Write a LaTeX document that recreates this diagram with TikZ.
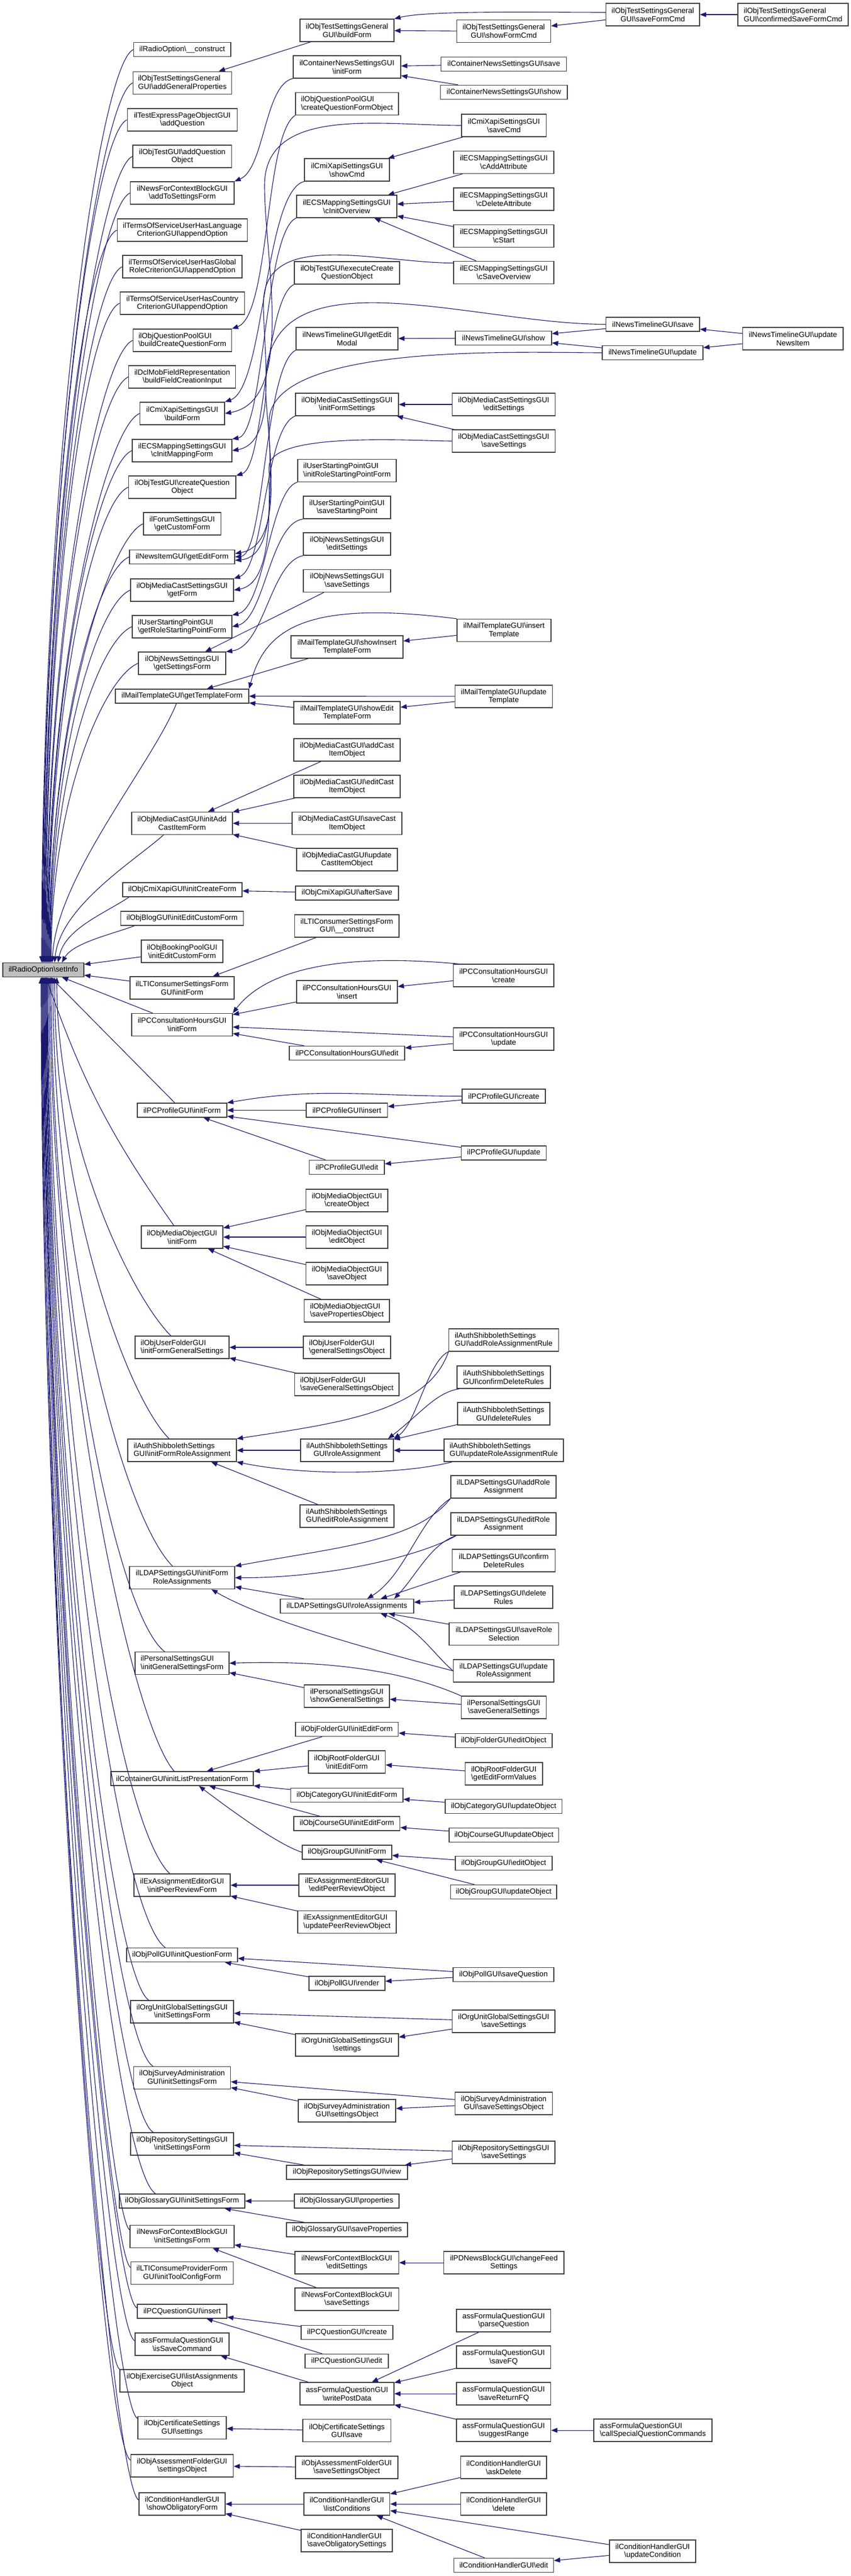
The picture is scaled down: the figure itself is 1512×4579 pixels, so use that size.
\documentclass[tikz,border=0pt]{standalone}
\usepackage{fontspec}
\setmainfont{Liberation Sans}
\usetikzlibrary{arrows.meta,calc}
\definecolor{edgeblue}{HTML}{191970}
\definecolor{rootfill}{HTML}{BFBFBF}
\definecolor{boxline}{HTML}{404040}
\newcommand\BSL{\textbackslash{}}
\newcommand\dxfont{\fontsize{13.3}{14.8}\selectfont}
\newcommand\upE[3]{\draw[cg] ($(root.north)+(#2,0)$) .. controls +(0,-#3) and +(-60,25) .. (#1.west);}
\tikzset{
  box/.style={draw=boxline, line width=1.3pt, fill=white, inner xsep=2pt, inner ysep=0pt,
    minimum height=25pt, font=\dxfont, align=center, text=black},
  two/.style={box, minimum height=40pt},
  lft/.style={align=left},
  cg/.style={draw=edgeblue, line width=1.1pt, arrows={Triangle[length=11pt,width=8.5pt]-}},
}
\begin{document}
\begin{tikzpicture}[x=1pt,y=-1pt]
\fill[white] (0,0) rectangle (1512,4579);
\useasboundingbox (0,0) rectangle (1512,4579);

% root
\node[box, fill=rootfill, minimum width=144] (root) at (77,1724) {ilRadioOption\BSL setInfo};

% column 1
\node[box, minimum width=172.5] (n1) at (323.75,88.25) {ilRadioOption\BSL\_\_construct};
\node[two, lft, minimum width=175] (n2) at (324,147.25) {ilObjTestSettingsGeneral\\GUI\BSL addGeneralProperties};
\node[two, minimum width=195.5] (n3) at (323.9,213) {ilTestExpressPageObjectGUI\\\BSL addQuestion};
\node[two, minimum width=175.5] (n4) at (323.75,278) {ilObjTestGUI\BSL addQuestion\\Object};
\node[two, minimum width=184.3] (n5) at (323.9,343) {ilNewsForContextBlockGUI\\\BSL addToSettingsForm};
\node[two, minimum width=231] (n6) at (324,409) {ilTermsOfServiceUserHasLanguage\\CriterionGUI\BSL appendOption};
\node[two, minimum width=212] (n7) at (324,474) {ilTermsOfServiceUserHasGlobal\\RoleCriterionGUI\BSL appendOption};
\node[two, minimum width=221.5] (n8) at (324,539) {ilTermsOfServiceUserHasCountry\\CriterionGUI\BSL appendOption};
\node[two, lft, minimum width=175] (n9) at (324,605) {ilObjQuestionPoolGUI\\\BSL buildCreateQuestionForm};
\node[two, minimum width=190] (n10) at (323.8,670) {ilDclMobFieldRepresentation\\\BSL buildFieldCreationInput};
\node[two, minimum width=150.5] (n11) at (323.8,735) {ilCmiXapiSettingsGUI\\\BSL buildForm};
\node[two, minimum width=177] (n12) at (323.5,801) {ilECSMappingSettingsGUI\\\BSL cInitMappingForm};
\node[two, minimum width=190.5] (n13) at (323.75,866) {ilObjTestGUI\BSL createQuestion\\Object};
\node[two, minimum width=137.5] (n14) at (323.75,931) {ilForumSettingsGUI\\\BSL getCustomForm};
\node[box, minimum width=187] (n15) at (323.5,990) {ilNewsItemGUI\BSL getEditForm};
\node[two, minimum width=183] (n16) at (323.5,1049) {ilObjMediaCastSettingsGUI\\\BSL getForm};
\node[two, lft, minimum width=177] (n17) at (323.5,1114) {ilUserStartingPointGUI\\\BSL getRoleStartingPointForm};
\node[two, minimum width=155] (n18) at (323.5,1179) {ilObjNewsSettingsGUI\\\BSL getSettingsForm};
\node[box, minimum width=237] (n19) at (323.5,1237.5) {ilMailTemplateGUI\BSL getTemplateForm};
\node[two, minimum width=179] (n20) at (323.5,1463.5) {ilObjMediaCastGUI\BSL initAdd\\CastItemForm};
\node[box, minimum width=212] (n21) at (324,1581.5) {ilObjCmiXapiGUI\BSL initCreateForm};
\node[box, minimum width=218] (n22) at (323.5,1632.5) {ilObjBlogGUI\BSL initEditCustomForm};
\node[two, minimum width=145] (n23) at (323.5,1691) {ilObjBookingPoolGUI\\\BSL initEditCustomForm};
\node[two, minimum width=185] (n24) at (323.5,1756) {ilLTIConsumerSettingsForm\\GUI\BSL initForm};
\node[two, minimum width=179] (n25) at (323.5,1821.5) {ilPCConsultationHoursGUI\\\BSL initForm};
\node[box, minimum width=159] (n26) at (323.5,1973.5) {ilPCProfileGUI\BSL initForm};
\node[two, minimum width=145] (n27) at (323.5,2199) {ilObjMediaObjectGUI\\\BSL initForm};
\node[two, lft, minimum width=167] (n28) at (323.5,2395) {ilObjUserFolderGUI\\\BSL initFormGeneralSettings};
\node[two, lft, minimum width=193] (n29) at (323.5,2578) {ilAuthShibbolethSettings\\GUI\BSL initFormRoleAssignment};
\node[two, minimum width=187] (n30) at (323.5,2804.5) {ilLDAPSettingsGUI\BSL initForm\\RoleAssignments};
\node[two, lft, minimum width=167] (n31) at (323.5,2956.5) {ilPersonalSettingsGUI\\\BSL initGeneralSettingsForm};
\node[box, minimum width=253] (n32) at (323.5,3161.5) {ilContainerGUI\BSL initListPresentationForm};
\node[two, minimum width=171] (n33) at (323.5,3351) {ilExAssignmentEditorGUI\\\BSL initPeerReviewForm};
\node[box, minimum width=197] (n34) at (323.5,3475) {ilObjPollGUI\BSL initQuestionForm};
\node[two, minimum width=183] (n35) at (323.5,3576) {ilOrgUnitGlobalSettingsGUI\\\BSL initSettingsForm};
\node[two, minimum width=172] (n36) at (323.5,3693.5) {ilObjSurveyAdministration\\GUI\BSL initSettingsForm};
\node[two, minimum width=183] (n37) at (323.5,3811) {ilObjRepositorySettingsGUI\\\BSL initSettingsForm};
\node[box, minimum width=223] (n38) at (323.5,3912.5) {ilObjGlossaryGUI\BSL initSettingsForm};
\node[two, minimum width=185] (n39) at (323.5,3975.6) {ilNewsForContextBlockGUI\\\BSL initSettingsForm};
\node[two, minimum width=182] (n40) at (323.5,4040.5) {ilLTIConsumeProviderForm\\GUI\BSL initToolConfigForm};
\node[box, minimum width=159] (n41) at (323.5,4108.5) {ilPCQuestionGUI\BSL insert};
\node[two, minimum width=167] (n42) at (323.5,4167) {assFormulaQuestionGUI\\\BSL isSaveCommand};
\node[two, minimum width=221] (n43) at (323.5,4232) {ilObjExerciseGUI\BSL listAssignments\\Object};
\node[two, minimum width=157] (n44) at (323.5,4315.6) {ilObjCertificateSettings\\GUI\BSL settings};
\node[two, minimum width=182] (n45) at (323.5,4383) {ilObjAssessmentFolderGUI\\\BSL settingsObject};
\node[two, minimum width=153] (n46) at (323.5,4451) {ilConditionHandlerGUI\\\BSL showObligatoryForm};

% column 2
\node[two, minimum width=167] (c2a) at (616.5,54) {ilObjTestSettingsGeneral\\GUI\BSL buildForm};
\node[two, minimum width=191] (c2b) at (616.5,119) {ilContainerNewsSettingsGUI\\\BSL initForm};
\node[two, lft, minimum width=183] (c2c) at (616.5,184.5) {ilObjQuestionPoolGUI\\\BSL createQuestionFormObject};
\node[two, minimum width=151] (c2d) at (616.5,302) {ilCmiXapiSettingsGUI\\\BSL showCmd};
\node[two, minimum width=178] (c2e) at (616,367) {ilECSMappingSettingsGUI\\\BSL cInitOverview};
\node[two, minimum width=187] (c2f) at (616.5,485) {ilObjTestGUI\BSL executeCreate\\QuestionObject};
\node[two, minimum width=181] (c2g) at (616.5,602) {ilNewsTimelineGUI\BSL getEdit\\Modal};
\node[two, minimum width=183] (c2h) at (616.5,719) {ilObjMediaCastSettingsGUI\\\BSL initFormSettings};
\node[two, lft, minimum width=175] (c2i) at (616.5,836.5) {ilUserStartingPointGUI\\\BSL initRoleStartingPointForm};
\node[two, minimum width=155] (c2j) at (616.5,902) {ilUserStartingPointGUI\\\BSL saveStartingPoint};
\node[two, minimum width=155] (c2k) at (616.5,967) {ilObjNewsSettingsGUI\\\BSL editSettings};
\node[two, minimum width=155] (c2l) at (616.5,1032.5) {ilObjNewsSettingsGUI\\\BSL saveSettings};
\node[two, minimum width=199] (c2m) at (616.5,1150) {ilMailTemplateGUI\BSL showInsert\\TemplateForm};
\node[two, minimum width=189] (c2n) at (616.5,1267) {ilMailTemplateGUI\BSL showEdit\\TemplateForm};
\node[two, minimum width=189] (c2o) at (616.5,1333) {ilObjMediaCastGUI\BSL addCast\\ItemObject};
\node[two, minimum width=189] (c2p) at (616.5,1398) {ilObjMediaCastGUI\BSL editCast\\ItemObject};
\node[two, minimum width=195] (c2q) at (616.5,1463.5) {ilObjMediaCastGUI\BSL saveCast\\ItemObject};
\node[two, minimum width=179] (c2r) at (616.5,1528) {ilObjMediaCastGUI\BSL update\\CastItemObject};
\node[box, minimum width=183] (c2s) at (616.5,1587.5) {ilObjCmiXapiGUI\BSL afterSave};
\node[two, minimum width=185.5] (c2t) at (616.25,1646) {ilLTIConsumerSettingsForm\\GUI\BSL\_\_construct};
\node[two, minimum width=179] (c2u) at (616.5,1763) {ilPCConsultationHoursGUI\\\BSL insert};
\node[box, minimum width=205] (c2v) at (616.5,1872) {ilPCConsultationHoursGUI\BSL edit};
\node[box, minimum width=144.5] (c2w) at (616.25,1973.5) {ilPCProfileGUI\BSL insert};
\node[box, minimum width=133.4] (c2x) at (616.3,2075) {ilPCProfileGUI\BSL edit};
\node[two, minimum width=145.5] (c2y) at (616.25,2134) {ilObjMediaObjectGUI\\\BSL createObject};
\node[two, minimum width=145.5] (c2z) at (616.25,2199) {ilObjMediaObjectGUI\\\BSL editObject};
\node[two, minimum width=145.5] (c2A) at (616.25,2264) {ilObjMediaObjectGUI\\\BSL saveObject};
\node[two, lft, minimum width=151.4] (c2B) at (616.3,2330) {ilObjMediaObjectGUI\\\BSL savePropertiesObject};
\node[two, lft, minimum width=155] (c2C) at (616.5,2395) {ilObjUserFolderGUI\\\BSL generalSettingsObject};
\node[two, lft, minimum width=185.5] (c2D) at (616.25,2461) {ilObjUserFolderGUI\\\BSL saveGeneralSettingsObject};
\node[two, minimum width=165] (c2E) at (616.5,2578) {ilAuthShibbolethSettings\\GUI\BSL roleAssignment};
\node[two, lft, minimum width=167] (c2F) at (616.5,2695) {ilAuthShibbolethSettings\\GUI\BSL editRoleAssignment};
\node[box, minimum width=237] (c2G) at (616.4,2855) {ilLDAPSettingsGUI\BSL roleAssignments};
\node[two, lft, minimum width=151.4] (c2H) at (616.3,3015) {ilPersonalSettingsGUI\\\BSL showGeneralSettings};
\node[box, minimum width=182.7] (c2I) at (616.4,3074) {ilObjFolderGUI\BSL initEditForm};
\node[two, minimum width=136.5] (c2J) at (616.25,3132) {ilObjRootFolderGUI\\\BSL initEditForm};
\node[box, minimum width=199.5] (c2K) at (616.25,3191) {ilObjCategoryGUI\BSL initEditForm};
\node[box, minimum width=188.6] (c2L) at (616.3,3241.5) {ilObjCourseGUI\BSL initEditForm};
\node[box, minimum width=159] (c2M) at (616.5,3292.5) {ilObjGroupGUI\BSL initForm};
\node[two, minimum width=171] (c2N) at (616.5,3351) {ilExAssignmentEditorGUI\\\BSL editPeerReviewObject};
\node[two, lft, minimum width=175] (c2O) at (616.5,3416.5) {ilExAssignmentEditorGUI\\\BSL updatePeerReviewObject};
\node[box, minimum width=135] (c2P) at (616.5,3525.6) {ilObjPollGUI\BSL render};
\node[two, minimum width=183] (c2Q) at (616.5,3635) {ilOrgUnitGlobalSettingsGUI\\\BSL settings};
\node[two, minimum width=173] (c2R) at (616.5,3752) {ilObjSurveyAdministration\\GUI\BSL settingsObject};
\node[box, minimum width=215] (c2S) at (616.5,3861.5) {ilObjRepositorySettingsGUI\BSL view};
\node[box, minimum width=186] (c2T) at (616,3912.5) {ilObjGlossaryGUI\BSL properties};
\node[box, minimum width=215] (c2U) at (616.5,3963.5) {ilObjGlossaryGUI\BSL saveProperties};
\node[two, minimum width=184.5] (c2V) at (616.25,4022) {ilNewsForContextBlockGUI\\\BSL editSettings};
\node[two, minimum width=184.5] (c2W) at (616.25,4087) {ilNewsForContextBlockGUI\\\BSL saveSettings};
\node[box, minimum width=163] (c2X) at (616.5,4146) {ilPCQuestionGUI\BSL create};
\node[box, minimum width=148] (c2Y) at (616,4197) {ilPCQuestionGUI\BSL edit};
\node[two, minimum width=167] (c2Z) at (616.5,4255) {assFormulaQuestionGUI\\\BSL writePostData};
\node[two, minimum width=156.7] (c2AA) at (616.35,4320.7) {ilObjCertificateSettings\\GUI\BSL save};
\node[two, minimum width=182] (c2AB) at (616,4386) {ilObjAssessmentFolderGUI\\\BSL saveSettingsObject};
\node[two, minimum width=152.6] (c2AC) at (616.3,4451) {ilConditionHandlerGUI\\\BSL listConditions};
\node[two, lft, minimum width=162] (c2AD) at (616,4516) {ilConditionHandlerGUI\\\BSL saveObligatorySettings};

% column 3
\node[two, minimum width=167] (c3a) at (895,55.6) {ilObjTestSettingsGeneral\\GUI\BSL showFormCmd};
\node[box, minimum width=223] (c3b) at (895,114) {ilContainerNewsSettingsGUI\BSL save};
\node[box, minimum width=225.4] (c3c) at (895.3,164) {ilContainerNewsSettingsGUI\BSL show};
\node[two, minimum width=150.6] (c3d) at (895.3,223) {ilCmiXapiSettingsGUI\\\BSL saveCmd};
\node[two, minimum width=178] (c3e) at (895,288.5) {ilECSMappingSettingsGUI\\\BSL cAddAttribute};
\node[two, minimum width=178] (c3f) at (895,354) {ilECSMappingSettingsGUI\\\BSL cDeleteAttribute};
\node[two, minimum width=178] (c3g) at (895,419.5) {ilECSMappingSettingsGUI\\\BSL cStart};
\node[two, minimum width=178] (c3h) at (895,484.5) {ilECSMappingSettingsGUI\\\BSL cSaveOverview};
\node[box, minimum width=171] (c3i) at (894.5,601) {ilNewsTimelineGUI\BSL show};
\node[two, minimum width=183] (c3j) at (895,719) {ilObjMediaCastSettingsGUI\\\BSL editSettings};
\node[two, minimum width=183] (c3k) at (895,784) {ilObjMediaCastSettingsGUI\\\BSL saveSettings};
\node[two, minimum width=167] (c3l) at (895.5,1120.5) {ilMailTemplateGUI\BSL insert\\Template};
\node[two, minimum width=173] (c3m) at (895,1238) {ilMailTemplateGUI\BSL update\\Template};
\node[two, minimum width=178.4] (c3n) at (894.8,1734) {ilPCConsultationHoursGUI\\\BSL create};
\node[two, minimum width=178.4] (c3o) at (894.8,1847) {ilPCConsultationHoursGUI\\\BSL update};
\node[box, minimum width=148] (c3p) at (895,1948.5) {ilPCProfileGUI\BSL create};
\node[box, minimum width=151] (c3q) at (895,2049.5) {ilPCProfileGUI\BSL update};
\node[two, lft, minimum width=195] (c3r) at (895,2382) {ilAuthShibbolethSettings\\GUI\BSL addRoleAssignmentRule};
\node[two, lft, minimum width=166] (c3s) at (895,2448) {ilAuthShibbolethSettings\\GUI\BSL confirmDeleteRules};
\node[two, minimum width=164] (c3t) at (895,2513) {ilAuthShibbolethSettings\\GUI\BSL deleteRules};
\node[two, lft, minimum width=212] (c3u) at (895,2578) {ilAuthShibbolethSettings\\GUI\BSL updateRoleAssignmentRule};
\node[two, minimum width=187] (c3v) at (894.5,2643) {ilLDAPSettingsGUI\BSL addRole\\Assignment};
\node[two, minimum width=187] (c3w) at (894.5,2709) {ilLDAPSettingsGUI\BSL editRole\\Assignment};
\node[two, minimum width=183] (c3x) at (895,2774) {ilLDAPSettingsGUI\BSL confirm\\DeleteRules};
\node[two, minimum width=175] (c3y) at (894.5,2839) {ilLDAPSettingsGUI\BSL delete\\Rules};
\node[two, minimum width=194.5] (c3z) at (895.25,2904.5) {ilLDAPSettingsGUI\BSL saveRole\\Selection};
\node[two, minimum width=178.4] (c3A) at (894.8,2970) {ilLDAPSettingsGUI\BSL update\\RoleAssignment};
\node[two, minimum width=151] (c3B) at (895,3035) {ilPersonalSettingsGUI\\\BSL saveGeneralSettings};
\node[box, minimum width=172] (c3C) at (895,3094) {ilObjFolderGUI\BSL editObject};
\node[two, lft, minimum width=137.5] (c3D) at (895.25,3153) {ilObjRootFolderGUI\\\BSL getEditFormValues};
\node[box, minimum width=207.6] (c3E) at (894.8,3211) {ilObjCategoryGUI\BSL updateObject};
\node[box, minimum width=194.5] (c3F) at (895.25,3262) {ilObjCourseGUI\BSL updateObject};
\node[box, minimum width=172] (c3G) at (895,3312) {ilObjGroupGUI\BSL editObject};
\node[box, minimum width=188.3] (c3H) at (894.85,3363) {ilObjGroupGUI\BSL updateObject};
\node[box, minimum width=179] (c3I) at (894.5,3510) {ilObjPollGUI\BSL saveQuestion};
\node[two, minimum width=182.4] (c3J) at (894.8,3593) {ilOrgUnitGlobalSettingsGUI\\\BSL saveSettings};
\node[two, minimum width=173] (c3K) at (895,3739) {ilObjSurveyAdministration\\GUI\BSL saveSettingsObject};
\node[two, minimum width=182.4] (c3L) at (894.8,3826) {ilObjRepositorySettingsGUI\\\BSL saveSettings};
\node[two, minimum width=213.5] (c3M) at (895.25,4022) {ilPDNewsBlockGUI\BSL changeFeed\\Settings};
\node[two, minimum width=167.6] (c3N) at (894.8,4125) {assFormulaQuestionGUI\\\BSL parseQuestion};
\node[two, minimum width=167.6] (c3O) at (894.8,4190) {assFormulaQuestionGUI\\\BSL saveFQ};
\node[two, minimum width=167.6] (c3P) at (894.8,4255) {assFormulaQuestionGUI\\\BSL saveReturnFQ};
\node[two, minimum width=167.6] (c3Q) at (894.8,4320) {assFormulaQuestionGUI\\\BSL suggestRange};
\node[two, minimum width=152.3] (c3R) at (894.85,4386) {ilConditionHandlerGUI\\\BSL askDelete};
\node[two, minimum width=152.3] (c3S) at (894.85,4451) {ilConditionHandlerGUI\\\BSL delete};
\node[box, minimum width=177] (c3T) at (895,4560) {ilConditionHandlerGUI\BSL edit};

% column 4
\node[two, minimum width=166.4] (c4a) at (1159.8,26) {ilObjTestSettingsGeneral\\GUI\BSL saveFormCmd};
\node[box, minimum width=166.4] (c4b) at (1159.8,576.5) {ilNewsTimelineGUI\BSL save};
\node[box, minimum width=179] (c4c) at (1159.5,627) {ilNewsTimelineGUI\BSL update};
\node[two, lft, minimum width=210] (c4d) at (1160,4320) {assFormulaQuestionGUI\\\BSL callSpecialQuestionCommands};
\node[two, minimum width=153] (c4e) at (1159.5,4535) {ilConditionHandlerGUI\\\BSL updateCondition};

% column 5
\node[two, lft, minimum width=196] (c5a) at (1409,26) {ilObjTestSettingsGeneral\\GUI\BSL confirmedSaveFormCmd};
\node[two, minimum width=178.4] (c5b) at (1408.8,602) {ilNewsTimelineGUI\BSL update\\NewsItem};

% ---- edges into the root ----
\upE{n1}{-3}{893}
\upE{n2}{-2}{860}
\upE{n3}{-1}{824}
\upE{n4}{0}{788}
\upE{n5}{1}{752}
\upE{n6}{2}{716}
\upE{n7}{3}{680}
\upE{n8}{4}{645}
\upE{n9}{5}{608}
\upE{n10}{6}{573}
\upE{n11}{7}{537}
\upE{n12}{8}{500}
\upE{n13}{9}{465}
\upE{n14}{10}{429}
\upE{n15}{11}{397}
\upE{n16}{12}{364}
\upE{n17}{13}{328}
\upE{n18}{14}{293}
\draw[cg] ($(root.north)+(16,0)$) .. controls +(6,-150) and +(-45,110) .. ($(n19.south)+(-10,0)$);
\draw[cg] ($(root.north)+(20,0)$) .. controls +(10,-100) and +(-50,45) .. ($(n20.south)+(-33,0)$);
\draw[cg] ($(root.north)+(26,0)$) .. controls +(12,-60) and +(-45,30) .. ($(n21.south west)+(12,0)$);
\draw[cg] ($(root.north)+(33,0)$) .. controls +(20,-35) and +(-40,15) .. ($(n22.south west)+(25,0)$);
\draw[cg] (root) -- (n23);
\draw[cg] (root) -- (n24);
\draw[cg] (root) -- (n25);
\draw[cg] (root) -- (n26);
\draw[cg] (root) to[bend right=8] (n27);
\draw[cg] ($(root.south)+(24,0)$) .. controls +(0,296) and +(-70,-70) .. ($(n28.north)+(-20,0)$);
\draw[cg] ($(root.south)+(20,0)$) .. controls +(0,378) and +(-80,-80) .. ($(n29.north)+(-23,0)$);
\draw[cg] ($(root.south)+(17,0)$) .. controls +(0,480) and +(-90,-90) .. ($(n30.north)+(-17,0)$);
\draw[cg] ($(root.south)+(14,0)$) .. controls +(0,549) and +(-90,-70) .. ($(n31.north)+(-31,0)$);
\draw[cg] ($(root.south)+(12,0)$) .. controls +(0,641) and +(-80,-90) .. ($(n32.north)+(-14,0)$);
\draw[cg] ($(root.south)+(10,0)$) .. controls +(0,726) and +(-100,-95) .. ($(n33.north)+(-22,0)$);
\draw[cg] ($(root.south)+(8,0)$) .. controls +(0,782) and +(-90,-65) .. ($(n34.north)+(-30,0)$);
\draw[cg] ($(root.south)+(7,0)$) .. controls +(0,828) and +(-70,-45) .. ($(n35.north west)+(33,0)$);
\draw[cg] ($(root.south)+(6,0)$) .. controls +(0,880) and +(-75,-45) .. ($(n36.north west)+(35,0)$);
\draw[cg] ($(root.south)+(5,0)$) .. controls +(0,933) and +(-75,-45) .. ($(n37.north west)+(41,0)$);
\draw[cg] ($(root.south)+(4,0)$) .. controls +(0,979) and +(-80,-50) .. ($(n38.north west)+(65,0)$);
\draw[cg] ($(root.south)+(3,0)$) .. controls +(0,1007) and +(-40,-25) .. ($(n39.west)+(0,-12)$);
\draw[cg] ($(root.south)+(2,0)$) .. controls +(0,1037) and +(-40,-25) .. ($(n40.west)+(0,-10)$);
\draw[cg] ($(root.south)+(1,0)$) .. controls +(0,1067) and +(-50,-25) .. ($(n41.west)+(0,-6)$);
\draw[cg] ($(root.south)+(0,0)$) .. controls +(0,1094) and +(-50,-25) .. ($(n42.west)+(0,-6)$);
\draw[cg] ($(root.south)+(-1,0)$) .. controls +(0,1123) and +(-40,-25) .. (n43.north west);
\draw[cg] ($(root.south)+(-2,0)$) .. controls +(0,1160) and +(-50,-25) .. ($(n44.north west)+(0,4)$);
\draw[cg] ($(root.south)+(-3,0)$) .. controls +(0,1191) and +(-50,-25) .. ($(n45.west)+(0,-10)$);
\draw[cg] ($(root.south)+(-4,0)$) .. controls +(0,1221) and +(-50,-28) .. ($(n46.west)+(0,-7)$);

% ---- other edges ----
\draw[cg] (n2) -- (c2a);
\draw[cg] (c2a.north east) .. controls +(60,-15) and +(-120,0) .. ($(c4a.west)+(0,-4)$);
\draw[cg] (c2a) -- (c3a);
\draw[cg] (c3a) -- (c4a);
\draw[cg] (c4a) -- (c5a);

\draw[cg] (n5.north east) .. controls (470,300) and (470,150) .. (c2b.south west);
\draw[cg] (c2b) -- (c3b);
\draw[cg] (c2b) -- (c3c);

\draw[cg] (n9.north east) .. controls (480,560) and (470,240) .. (c2c.south west);

\draw[cg] (n11.north east) .. controls (470,690) and (470,340) .. (c2d.south west);
\draw[cg] (n11.east) to[out=10,in=-90,looseness=0.8] (470,330) to[out=90,in=180] (c3d.west);
\draw[cg] (c2d) -- (c3d);

\draw[cg] (n12.north east) .. controls (470,770) and (470,410) .. (c2e.south west);
\draw[cg] (n12.east) to[out=10,in=-90,looseness=0.8] (468,540) to[out=90,in=180] ($(c3h.west)+(0,-17)$);
\draw[cg] (c2e) -- (c3e);
\draw[cg] (c2e) -- (c3f);
\draw[cg] (c2e) -- (c3g);
\draw[cg] (c2e) -- (c3h);

\draw[cg] (n13.north east) .. controls (470,830) and (470,530) .. (c2f.south west);

\draw[cg] (n15.east) .. controls (470,985) and (470,650) .. (c2g.south west);
\draw[cg] ($(n15.east)+(0,-6)$) to[out=10,in=-90,looseness=0.8] (472,680) to[out=90,in=180] (c4b.west);
\draw[cg] ($(n15.east)+(0,6)$) to[out=5,in=-90,looseness=0.8] (478,750) to[out=90,in=180,looseness=0.6] (c4c.west);
\draw[cg] (c2g) -- (c3i);
\draw[cg] (c3i) -- (c4b);
\draw[cg] (c3i) -- (c4c);
\draw[cg] (c4b) -- (c5b);
\draw[cg] (c4c) -- (c5b);

\draw[cg] (n16.north east) .. controls (470,1010) and (470,760) .. (c2h.south west);
\draw[cg] (n16.east) to[out=10,in=-90,looseness=0.8] (478,830) to[out=90,in=180,looseness=0.5] (c3k.west);
\draw[cg] (c2h) -- (c3j);
\draw[cg] (c2h) -- (c3k);

\draw[cg] (n17.north east) .. controls (470,1080) and (480,870) .. (c2i.south west);
\draw[cg] (n17.east) .. controls (470,1100) and (480,930) .. (c2j.south west);
\draw[cg] (n18.north east) .. controls (470,1150) and (480,1000) .. (c2k.south west);
\draw[cg] (n18) -- (c2l);

\draw[cg] (n19) -- (c2m);
\draw[cg] (n19.north east) .. controls (470,1120) and (540,1065) .. (c3l.north west);
\draw[cg] (n19) -- (c3m);
\draw[cg] (n19) -- (c2n);
\draw[cg] (c2m) -- (c3l);
\draw[cg] (c2n) -- (c3m);

\draw[cg] (n20) -- (c2o);
\draw[cg] (n20) -- (c2p);
\draw[cg] (n20) -- (c2q);
\draw[cg] (n20) -- (c2r);
\draw[cg] (n21) -- (c2s);
\draw[cg] (n24) -- (c2t);

\draw[cg] (n25.north east) .. controls (460,1740) and (560,1690) .. ($(c3n.north west)+(10,0)$);
\draw[cg] (n25) -- (c2u);
\draw[cg] (n25) -- (c3o);
\draw[cg] (n25) -- (c2v);
\draw[cg] (c2u) -- (c3n);
\draw[cg] (c2v) -- (c3o);

\draw[cg] (n26.north east) to[out=10,in=180] (c3p.west);
\draw[cg] (n26) -- (c2w);
\draw[cg] (n26) -- (c3q);
\draw[cg] (n26) -- (c2x);
\draw[cg] (c2w) -- (c3p);
\draw[cg] (c2x) -- (c3q);

\draw[cg] (n27) -- (c2y);
\draw[cg] (n27) -- (c2z);
\draw[cg] (n27) -- (c2A);
\draw[cg] (n27) -- (c2B);
\draw[cg] (n28) -- (c2C);
\draw[cg] (n28) -- (c2D);

\draw[cg] (n29.north east) .. controls (600,2530) and (760,2510) .. (c3r.south west);
\draw[cg] (n29) -- (c2E);
\draw[cg] (n29.south east) .. controls (550,2625) and (720,2620) .. ($(c3u.south west)+(15,0)$);
\draw[cg] (n29) -- (c2F);
\draw[cg] (c2E.north east) .. controls (740,2530) and (760,2420) .. (c3r.south west);
\draw[cg] ($(c2E.north east)+(-10,0)$) .. controls (750,2510) and (775,2475) .. ($(c3s.south west)+(5,0)$);
\draw[cg] (c2E) -- (c3t);
\draw[cg] (c2E) -- (c3u);

\draw[cg] (n30.north east) .. controls (600,2750) and (740,2740) .. (c3v.south west);
\draw[cg] (n30.east) .. controls (600,2805) and (760,2760) .. ($(c3w.south west)+(10,0)$);
\draw[cg] (n30) -- (c2G);
\draw[cg] ($(n30.south east)+(-42,0)$) .. controls (470,2880) and (650,2930) .. (c3A.west);
\draw[cg] ($(c2G.north)+(36,0)$) .. controls (720,2800) and (745,2700) .. (c3v.south west);
\draw[cg] ($(c2G.north)+(84,0)$) .. controls (740,2800) and (765,2745) .. ($(c3w.south west)+(10,0)$);
\draw[cg] ($(c2G.north)+(60,0)$) -- ($(c3x.south west)+(15,0)$);
\draw[cg] (c2G) -- (c3y);
\draw[cg] (c2G) -- (c3z);
\draw[cg] ($(c2G.south)+(60,0)$) .. controls (740,2890) and (770,2940) .. (c3A.west);

\draw[cg] (n31.east) .. controls (600,2950) and (730,2975) .. (c3B.north west);
\draw[cg] (n31) -- (c2H);
\draw[cg] (c2H) -- (c3B);

\draw[cg] (n32) -- (c2I);
\draw[cg] (n32) -- (c2J);
\draw[cg] (n32) -- (c2K);
\draw[cg] (n32) -- (c2L);
\draw[cg] ($(n32.south)+(30,0)$) .. controls (440,3240) and (500,3280) .. (c2M.west);
\draw[cg] (c2I) -- (c3C);
\draw[cg] (c2J) -- (c3D);
\draw[cg] (c2K) -- (c3E);
\draw[cg] (c2L) -- (c3F);
\draw[cg] (c2M) -- (c3G);
\draw[cg] (c2M) -- (c3H);

\draw[cg] (n33) -- (c2N);
\draw[cg] (n33) -- (c2O);
\draw[cg] (n34) -- (c3I);
\draw[cg] (n34) -- (c2P);
\draw[cg] (c2P) -- (c3I);
\draw[cg] (n35) -- (c3J);
\draw[cg] (n35) -- (c2Q);
\draw[cg] (c2Q) -- (c3J);
\draw[cg] (n36) -- (c3K);
\draw[cg] (n36) -- (c2R);
\draw[cg] (c2R) -- (c3K);
\draw[cg] (n37) -- (c3L);
\draw[cg] (n37) -- (c2S);
\draw[cg] (c2S) -- (c3L);
\draw[cg] (n38) -- (c2T);
\draw[cg] (n38) -- (c2U);
\draw[cg] (n39) -- (c2V);
\draw[cg] (n39) -- (c2W);
\draw[cg] (c2V) -- (c3M);
\draw[cg] (n41) -- (c2X);
\draw[cg] (n41) -- (c2Y);
\draw[cg] (n42) -- (c2Z);
\draw[cg] (c2Z) -- (c3N);
\draw[cg] (c2Z) -- (c3O);
\draw[cg] (c2Z) -- (c3P);
\draw[cg] (c2Z) -- (c3Q);
\draw[cg] (c3Q) -- (c4d);
\draw[cg] (n44) -- (c2AA);
\draw[cg] (n45) -- (c2AB);
\draw[cg] (n46) -- (c2AC);
\draw[cg] (n46) -- (c2AD);
\draw[cg] (c2AC) -- (c3R);
\draw[cg] (c2AC) -- (c3S);
\draw[cg] (c2AC) -- (c4e);
\draw[cg] (c2AC) -- (c3T);
\draw[cg] (c3T) -- (c4e);
\end{tikzpicture}
\end{document}
